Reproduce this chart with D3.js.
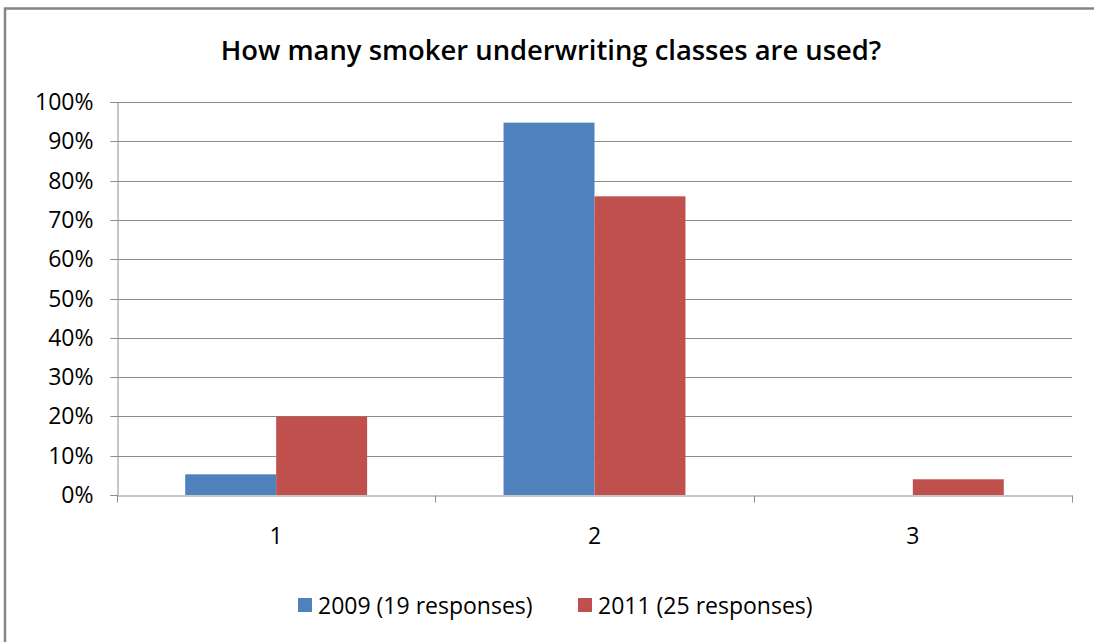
<!DOCTYPE html>
<html>
<head>
<meta charset="utf-8">
<script src="https://cdn.jsdelivr.net/npm/d3@7"></script>
<style>
  html, body { margin: 0; padding: 0; background: #fff; }
  svg { display: block; }
  text { font-family: "Open Sans", sans-serif; fill: #000; }
</style>
</head>
<body>
<script>
// Survey results: share of respondents by number of smoker classes
const categories = ["1", "2", "3"];
const seriesNames = ["2009 (19 responses)", "2011 (25 responses)"];
const values2009 = [0.0526, 0.9474, 0];
const values2011 = [0.20, 0.76, 0.04];
const yTicks = [0, 0.1, 0.2, 0.3, 0.4, 0.5, 0.6, 0.7, 0.8, 0.9, 1.0];
const seriesColors = ["#4F81BD", "#C0504D"];
const title = "How many smoker underwriting classes are used?";

const W = 1094, H = 642;
const plot = { left: 117, right: 1072, top: 102, bottom: 495 };
const labelFont = 23;

const svg = d3.select("body").append("svg").attr("width", W).attr("height", H);

// chart frame (extends past the right and bottom edges)
svg.append("rect")
  .attr("x", 5).attr("y", 8.5).attr("width", W + 20).attr("height", H + 20)
  .attr("fill", "#fff").attr("stroke", "#868686").attr("stroke-width", 2.5);

svg.append("text")
  .attr("x", 551).attr("y", 60)
  .attr("text-anchor", "middle")
  .attr("font-size", 27.4).attr("font-weight", 600)
  .text(title);

const x0 = d3.scaleBand().domain(categories).range([plot.left, plot.right]).paddingInner(0).paddingOuter(0);
// two touching bars per category, gap of 1.5 bar widths between groups
const barWidth = x0.bandwidth() / (2 + 1.5);
const y = d3.scaleLinear().domain([0, 1]).range([plot.bottom, plot.top]);

// gridlines
svg.append("g").selectAll("line").data(yTicks.filter(d => d > 0)).join("line")
  .attr("x1", plot.left).attr("x2", plot.right)
  .attr("y1", d => Math.round(y(d)) + 0.5).attr("y2", d => Math.round(y(d)) + 0.5)
  .attr("stroke", "#8c8c8c").attr("stroke-width", 1);

// y axis
const yAxis = d3.axisLeft(y).tickValues(yTicks).tickFormat(d3.format(".0%")).tickSize(7).tickPadding(17);
const gy = svg.append("g").attr("transform", `translate(${plot.left + 0.5},0)`).call(yAxis);
gy.select(".domain").attr("stroke", "#8c8c8c");
gy.selectAll(".tick line").attr("stroke", "#8c8c8c");
gy.selectAll(".tick text").attr("font-size", labelFont).attr("font-family", "'Open Sans', sans-serif").attr("fill", "#000");
gy.selectAll(".tick").attr("transform", d => `translate(0,${Math.round(y(d)) + 0.5})`);

// bars
const series = [values2009, values2011];
series.forEach((vals, si) => {
  svg.append("g").selectAll("rect").data(vals).join("rect")
    .attr("x", (d, i) => x0(categories[i]) + x0.bandwidth() / 2 - barWidth + si * barWidth)
    .attr("width", barWidth)
    .attr("y", d => y(d))
    .attr("height", d => y(0) - y(d))
    .attr("fill", seriesColors[si]);
});

// x axis
const xAxis = d3.axisBottom(x0).tickSize(0).tickPadding(32);
const gx = svg.append("g").attr("transform", `translate(0,${plot.bottom + 0.5})`).call(xAxis);
gx.select(".domain").attr("stroke", "#8c8c8c");
gx.selectAll(".tick text").attr("font-size", labelFont).attr("font-family", "'Open Sans', sans-serif").attr("fill", "#000");
// category boundary ticks
const bounds = categories.map(c => x0(c)).concat([plot.right]);
gx.append("g").selectAll("line").data(bounds).join("line")
  .attr("x1", d => Math.round(d) + 0.5).attr("x2", d => Math.round(d) + 0.5)
  .attr("y1", 0).attr("y2", 7)
  .attr("stroke", "#8c8c8c");

// legend
const legend = svg.append("g");
const legendX = [298, 578];
seriesNames.forEach((name, i) => {
  const g = legend.append("g").attr("transform", `translate(${legendX[i]},0)`);
  g.append("rect").attr("x", 0).attr("y", 598).attr("width", 14).attr("height", 14).attr("fill", seriesColors[i]);
  g.append("text").attr("x", 20).attr("y", 614).attr("font-size", labelFont).text(name);
});
</script>
</body>
</html>
